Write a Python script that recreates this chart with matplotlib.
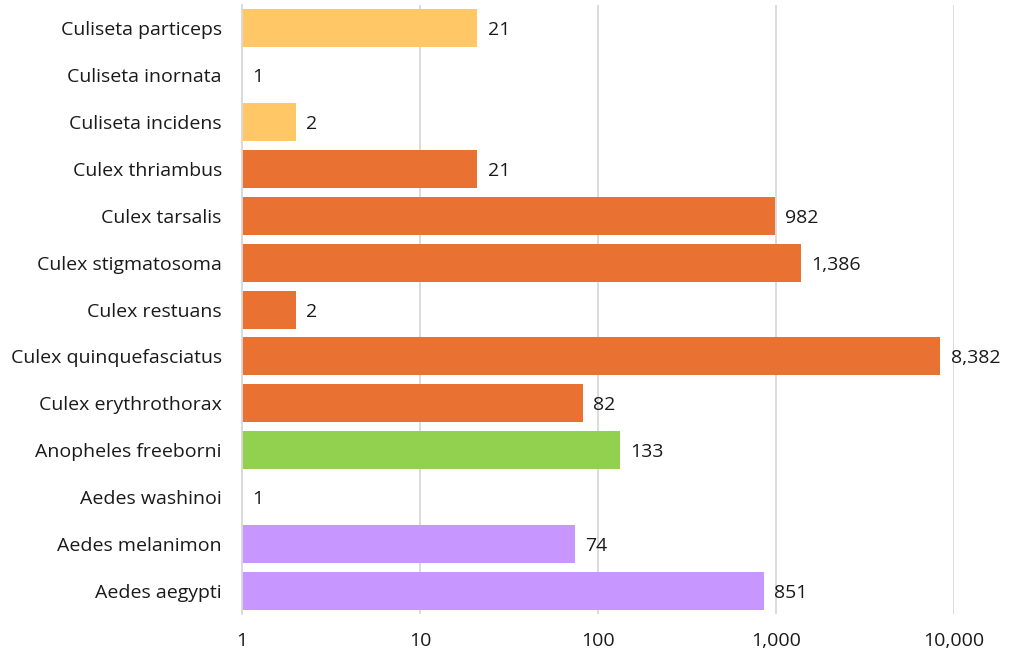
import matplotlib
matplotlib.use("Agg")
import matplotlib.pyplot as plt
from matplotlib.ticker import FixedLocator, FuncFormatter

plt.rcParams["font.family"] = ["Open Sans", "DejaVu Sans"]

# data, bottom to top
species = [
    "Aedes aegypti", "Aedes melanimon", "Aedes washinoi", "Anopheles freeborni",
    "Culex erythrothorax", "Culex quinquefasciatus", "Culex restuans",
    "Culex stigmatosoma", "Culex tarsalis", "Culex thriambus",
    "Culiseta incidens", "Culiseta inornata", "Culiseta particeps",
]
counts = [851, 74, 1, 133, 82, 8382, 2, 1386, 982, 21, 2, 1, 21]
genus = ["Aedes", "Aedes", "Aedes", "Anopheles", "Culex", "Culex", "Culex",
         "Culex", "Culex", "Culex", "Culiseta", "Culiseta", "Culiseta"]

GENUS_COLOURS = {
    "Aedes": "#C896FF",
    "Anopheles": "#92D050",
    "Culex": "#E97132",
    "Culiseta": "#FFC766",
}
C_TEXT = "#1a1a1a"
C_GRID = "#d9d9d9"
FS = 14

fig = plt.figure(figsize=(10.13, 6.54), dpi=100)
ax = fig.add_axes([0.2389, 0.0604, 0.7029, 0.9327])

ypos = list(range(len(species)))
ax.barh(ypos, counts, left=0, height=0.81,
        color=[GENUS_COLOURS[g] for g in genus], zorder=2)

ax.set_xscale("log")
ax.set_xlim(1, 10000)
ax.set_ylim(-0.5, len(species) - 0.5)

ax.xaxis.set_major_locator(FixedLocator([1, 10, 100, 1000, 10000]))
ax.xaxis.set_minor_locator(FixedLocator([]))
ax.xaxis.set_major_formatter(FuncFormatter(lambda v, _: f"{int(round(v)):,}"))
ax.grid(axis="x", color=C_GRID, linewidth=1.3, zorder=0)
ax.tick_params(axis="x", length=0, pad=12.5, labelsize=FS, labelcolor=C_TEXT)

ax.set_yticks(ypos)
ax.set_yticklabels(species)
ax.tick_params(axis="y", length=0, pad=14.5, labelsize=FS, labelcolor=C_TEXT)

for side in ["top", "right", "bottom"]:
    ax.spines[side].set_visible(False)
ax.spines["left"].set_color(C_GRID)
ax.spines["left"].set_linewidth(1.3)

for y, v in zip(ypos, counts):
    ax.annotate(f"{v:,}", xy=(v, y), xytext=(7.5, 0), textcoords="offset points",
                ha="left", va="center_baseline", fontsize=FS, color=C_TEXT,
                annotation_clip=False)

fig.savefig("out.png", dpi=100, facecolor="white")
